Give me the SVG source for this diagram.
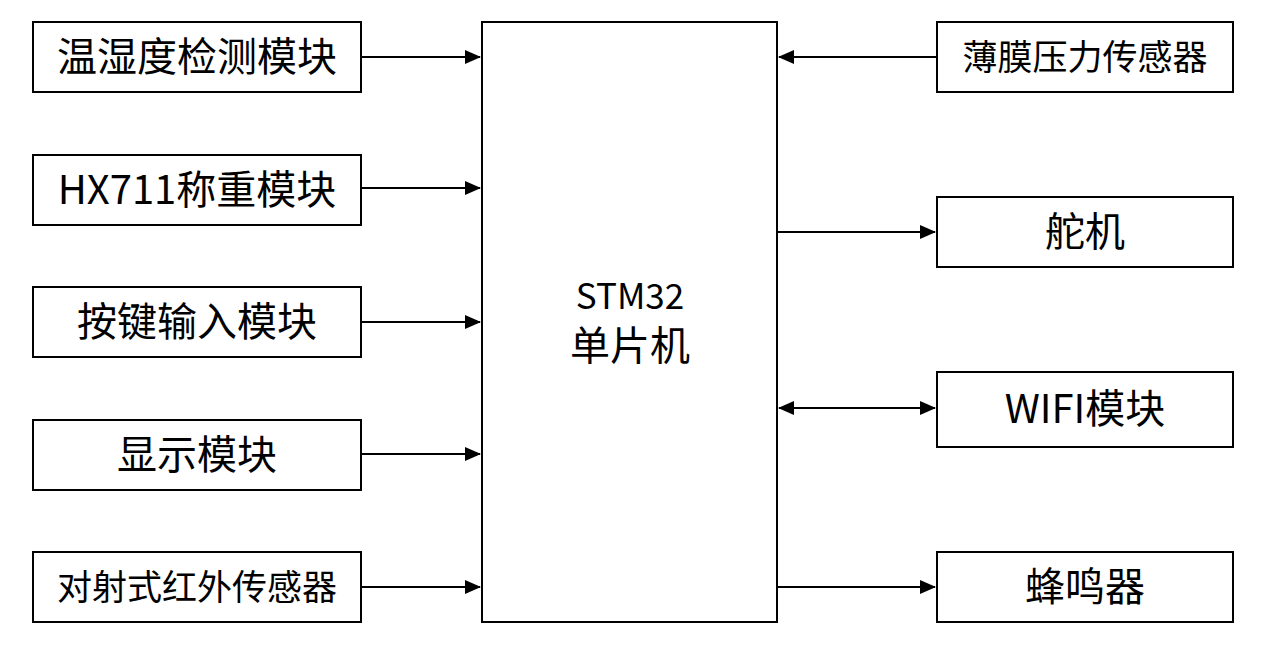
<svg xmlns="http://www.w3.org/2000/svg" width="1267" height="655" viewBox="0 0 1267 655">
<style>
rect{fill:#fff;stroke:#000;stroke-width:2}
text{font-family:"Noto Sans CJK SC","Noto Sans",sans-serif;text-anchor:middle;dominant-baseline:central;fill:#000}
.l{font-size:40px}.s{font-size:35px}
line{stroke:#000;stroke-width:2}
</style>
<defs><marker id="a" markerWidth="16" markerHeight="14" refX="15" refY="7" orient="auto-start-reverse" markerUnits="userSpaceOnUse"><path d="M0,0L16,7L0,14z" fill="#000"/></marker></defs>
<rect width="1267" height="655" style="stroke:none"/>
<g id="n1"><rect x="33" y="22" width="328" height="70"/><text class="l" x="197" y="54">温湿度检测模块</text></g>
<g id="n2"><rect x="33" y="155" width="328" height="70"/><text class="l" x="197" y="187">HX711称重模块</text></g>
<g id="n3"><rect x="33" y="287" width="328" height="70"/><text class="l" x="197" y="319">按键输入模块</text></g>
<g id="n4"><rect x="33" y="420" width="328" height="70"/><text class="l" x="197" y="452">显示模块</text></g>
<g id="n5"><rect x="33" y="552" width="328" height="70"/><text class="s" x="197" y="584">对射式红外传感器</text></g>
<g id="mcu"><rect x="482" y="22" width="295" height="600"/><text class="s" x="630" y="293">STM32</text><text class="l" x="630" y="343">单片机</text></g>
<g id="r1"><rect x="937" y="22" width="296" height="70"/><text class="s" x="1085" y="54">薄膜压力传感器</text></g>
<g id="r2"><rect x="937" y="197" width="296" height="70"/><text class="l" x="1085" y="229">舵机</text></g>
<g id="r3"><rect x="937" y="372" width="296" height="75"/><text class="l" x="1085" y="406">WIFI模块</text></g>
<g id="r4"><rect x="937" y="552" width="296" height="70"/><text class="l" x="1085" y="584">蜂鸣器</text></g>
<g id="edges">
<line x1="361" y1="57" x2="480" y2="57" marker-end="url(#a)"/>
<line x1="361" y1="188" x2="480" y2="188" marker-end="url(#a)"/>
<line x1="361" y1="322" x2="480" y2="322" marker-end="url(#a)"/>
<line x1="361" y1="454" x2="480" y2="454" marker-end="url(#a)"/>
<line x1="361" y1="587" x2="480" y2="587" marker-end="url(#a)"/>
<line x1="937" y1="57" x2="779" y2="57" marker-end="url(#a)"/>
<line x1="777" y1="232" x2="935" y2="232" marker-end="url(#a)"/>
<line x1="779" y1="408" x2="935" y2="408" marker-start="url(#a)" marker-end="url(#a)"/>
<line x1="777" y1="587" x2="935" y2="587" marker-end="url(#a)"/>
</g>
</svg>
